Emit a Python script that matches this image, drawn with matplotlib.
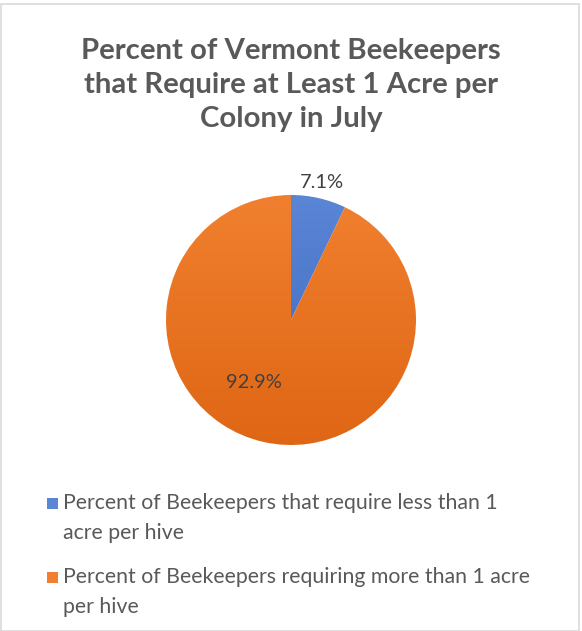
import numpy as np
import matplotlib
matplotlib.use('Agg')
import matplotlib.pyplot as plt
from matplotlib.patches import Rectangle
from matplotlib.colors import LinearSegmentedColormap

# data
categories = ['Percent of Beekeepers that require less than 1\nacre per hive',
              'Percent of Beekeepers requiring more than 1 acre\nper hive']
values = [7.1, 92.9]
pct_labels = ['7.1%', '92.9%']
title = 'Percent of Vermont Beekeepers\nthat Require at Least 1 Acre per\nColony in July'

TXT = '#595959'
COLORS = [('#5B86D6', '#3A66BE'), ('#F0802F', '#DF6614')]

plt.rcParams['font.family'] = ['Lato', 'DejaVu Sans']

W, H = 582, 631
fig = plt.figure(figsize=(W / 100, H / 100), dpi=100)
fig.patch.set_facecolor('white')
fig.patches.append(Rectangle((0.5 / W, 0.5 / H), 1 - 4 / W, 1 - 4 / H, transform=fig.transFigure,
                             fill=False, edgecolor='#D9D9D9', linewidth=1.2))

fig.text(291 / W, 1 - 85 / H, title, ha='center', va='center', fontsize=21.2,
         fontweight='bold', color=TXT, linespacing=1.36)

cx, cy, r = 291, 631 - 320, 125
ax = fig.add_axes([(cx - r) / W, (cy - r) / H, 2 * r / W, 2 * r / H])
wedges, _ = ax.pie(values, startangle=90, counterclock=False, radius=1,
                   wedgeprops=dict(linewidth=0.4, edgecolor='white'))
ax.set_aspect('equal')
ax.axis('off')

# vertical gradient fill clipped to each wedge (lighter at top)
for w, (c1, c2) in zip(wedges, COLORS):
    cmap = LinearSegmentedColormap.from_list('g', [c1, c2])
    grad = np.linspace(0, 1, 256).reshape(-1, 1)
    im = ax.imshow(grad, cmap=cmap, extent=(-1, 1, -1, 1), aspect='auto', zorder=w.get_zorder())
    im.set_clip_path(w)
    w.set_facecolor('none')

# percentage labels
ang0 = 90 - values[0] / sum(values) * 360 / 2
ax.text(1.13 * np.cos(np.radians(ang0)), 1.13 * np.sin(np.radians(ang0)), pct_labels[0],
        ha='center', va='center', fontsize=14.5, color='#404040')
ax.text(-0.30, -0.50, pct_labels[1], ha='center', va='center', fontsize=14.5, color='#404040')
ax.set_xlim(-1, 1)
ax.set_ylim(-1, 1)

# legend
leg_y = [503, 577]
for i, (lab, (c1, c2)) in enumerate(zip(categories, COLORS)):
    y = leg_y[i]
    fig.patches.append(Rectangle((47 / W, 1 - (y + 6) / H), 11 / W, 11 / H,
                                 transform=fig.transFigure, facecolor=c1, edgecolor='none'))
    fig.text(63 / W, 1 - (y - 10) / H, lab, ha='left', va='top', fontsize=15.3,
             color=TXT, linespacing=1.62)

fig.savefig('out.png', dpi=100)
